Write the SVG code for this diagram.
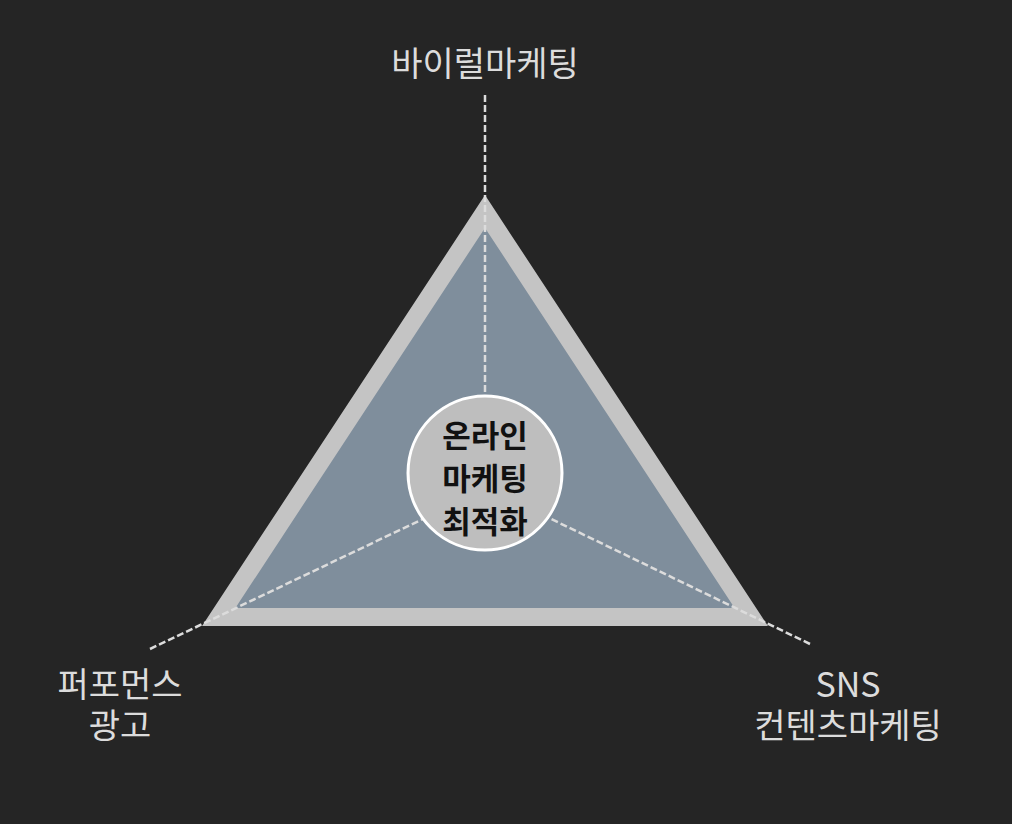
<svg xmlns="http://www.w3.org/2000/svg" width="1012" height="824" viewBox="0 0 1012 824">
<style>
.lbl{font-family:"Noto Sans CJK KR","Noto Sans",sans-serif;font-size:34px;fill:#dcdcdc;text-anchor:middle}
.ctr{font-family:"Noto Sans CJK KR","Noto Sans",sans-serif;font-size:31px;font-weight:bold;fill:#111;text-anchor:middle}
.dash{stroke:#dcdcdc;stroke-width:2.5;stroke-dasharray:7 3;fill:none}
</style>
<rect width="1012" height="824" fill="#252525"/>
<g id="triangle">
<polygon points="485,211.5 218.7,617 751.3,617" fill="#7f8e9c" stroke="#c4c4c4" stroke-width="18" stroke-linejoin="miter"/>
</g>
<g id="connectors">
<line class="dash" x1="485" y1="95" x2="485" y2="400"/>
<line class="dash" x1="150" y1="649" x2="425" y2="518"/>
<line class="dash" x1="810" y1="644" x2="545" y2="516"/>
</g>
<g id="center">
<circle cx="485" cy="473" r="77" fill="#bebebe" stroke="#ffffff" stroke-width="3"/>
<text class="ctr" x="485" y="447">온라인</text>
<text class="ctr" x="485" y="490">마케팅</text>
<text class="ctr" x="485" y="533">최적화</text>
</g>
<g id="label-top">
<text class="lbl" x="485" y="76">바이럴마케팅</text>
</g>
<g id="label-left">
<text class="lbl" x="120" y="697">퍼포먼스</text>
<text class="lbl" x="120" y="738">광고</text>
</g>
<g id="label-right">
<text class="lbl" x="848" y="697">SNS</text>
<text class="lbl" x="848" y="738">컨텐츠마케팅</text>
</g>
</svg>
